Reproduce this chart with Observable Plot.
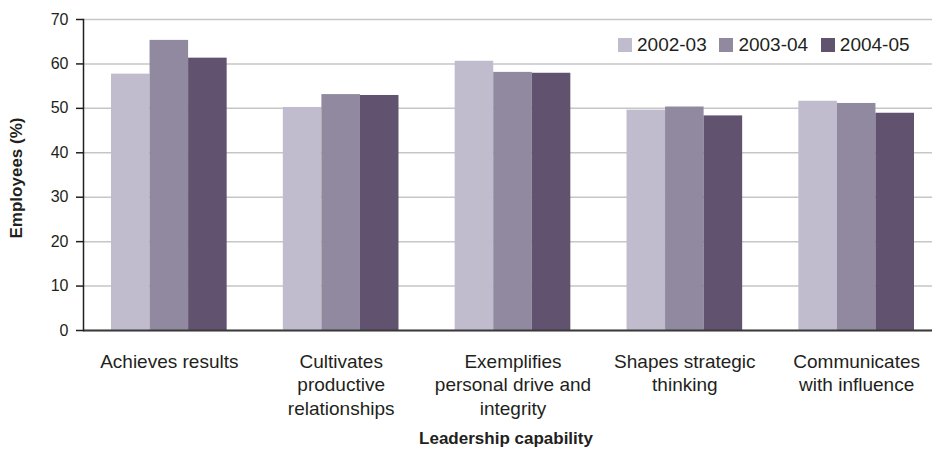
<!DOCTYPE html>
<html><head><meta charset="utf-8">
<script src="https://cdn.jsdelivr.net/npm/d3@7"></script>
<script src="https://cdn.jsdelivr.net/npm/@observablehq/plot@0.6"></script>
<style>
  body { margin: 0; background: #fff; overflow: hidden; }
  #wrap { position: relative; width: 932px; height: 452px; font-family: "Liberation Sans", Arial, sans-serif; color: #231f20; }
  #wrap svg { position: absolute; left: 0; top: 0; }
  #legend { position: absolute; top: 34px; left: 618px; display: flex; font-size: 19px; line-height: 22px; }
  #legend .item { display: flex; align-items: center; margin-right: 12.7px; }
  #legend .sw { width: 14px; height: 14px; margin-right: 5px; }
  #ytitle { position: absolute; left: 17px; top: 178px; transform: translate(-50%, -50%) rotate(-90deg); font-weight: bold; font-size: 17px; white-space: nowrap; }
  #xtitle { position: absolute; left: 506px; top: 439px; transform: translate(-50%, -50%); font-weight: bold; font-size: 17px; white-space: nowrap; }
</style>
</head><body>
<div id="wrap"></div>
<script>
const categories = ["Achieves results", "Cultivates productive relationships", "Exemplifies personal drive and integrity", "Shapes strategic thinking", "Communicates with influence"];
const tickLabels = ["Achieves results", "Cultivates\nproductive\nrelationships", "Exemplifies\npersonal drive and\nintegrity", "Shapes strategic\nthinking", "Communicates\nwith influence"];
const years = ["2002-03", "2003-04", "2004-05"];
const values2002 = [57.7, 50.2, 60.6, 49.6, 51.6];
const values2003 = [65.3, 53.1, 58.1, 50.3, 51.1];
const values2004 = [61.3, 52.9, 57.9, 48.3, 48.9];
const yTicks = [0, 10, 20, 30, 40, 50, 60, 70];
const colors = ["#c0bccd", "#9189a0", "#615270"];
const yTitle = "Employees (%)";
const xTitle = "Leadership capability";

const series = [values2002, values2003, values2004];
const data = [];
categories.forEach((c, i) => years.forEach((y, j) => data.push({category: c, year: y, value: series[j][i]})));

const common = {
  width: 932, height: 452,
  marginLeft: 83, marginTop: 19, marginBottom: 122,
  y: {domain: [0, 70], label: null}
};

// Base layer: gridlines and y axis
const base = Plot.plot({
  ...common,
  marginRight: 0,
  style: {fontFamily: "'Liberation Sans', Arial, sans-serif", fontSize: "16px", color: "#231f20", background: "transparent"},
  marks: [
    Plot.ruleY(yTicks, {stroke: "#c6c6c6", strokeWidth: 1.5}),
    Plot.axisY({ticks: yTicks, tickSize: 7, tickPadding: 8, stroke: "#231f20", strokeWidth: 1.5, fill: "#231f20", fontSize: 16, label: null})
  ]
});

// Bars layer, grouped with fx facets
const bars = Plot.plot({
  ...common,
  marginRight: -10,
  style: {fontFamily: "'Liberation Sans', Arial, sans-serif", fontSize: "19px", color: "#231f20", background: "transparent", overflow: "hidden"},
  fx: {domain: categories, paddingInner: 0.327, paddingOuter: 0.163, round: false, label: null},
  x: {domain: years, padding: 0, round: false, axis: null},
  color: {domain: years, range: colors},
  marks: [
    Plot.barY(data, {fx: "category", x: "year", y: "value", fill: "year"}),
    Plot.axisY({ticks: [], label: null}),
    Plot.axisFx({anchor: "bottom", tickFormat: (d) => tickLabels[categories.indexOf(d)], tickSize: 0, tickPadding: 21, lineHeight: 1.23, fontSize: 19, fill: "#231f20", label: null})
  ]
});

// Top layer: axis lines over bars
const lines = Plot.plot({
  ...common,
  marginRight: 0,
  style: {background: "transparent"},
  marks: [
    Plot.ruleY([0], {stroke: "#3a3a3a", strokeWidth: 2}),
    Plot.frame({anchor: "left", stroke: "#231f20", strokeWidth: 1.5}),
    Plot.axisY({ticks: [], label: null})
  ]
});

const wrap = document.getElementById("wrap");
wrap.appendChild(base);
wrap.appendChild(bars);
wrap.appendChild(lines);

const legend = document.createElement("div");
legend.id = "legend";
years.forEach((y, j) => {
  const it = document.createElement("div");
  it.className = "item";
  const sw = document.createElement("span");
  sw.className = "sw";
  sw.style.background = colors[j];
  const t = document.createElement("span");
  t.textContent = y;
  it.appendChild(sw); it.appendChild(t);
  legend.appendChild(it);
});
wrap.appendChild(legend);

const yt = document.createElement("div"); yt.id = "ytitle"; yt.textContent = yTitle; wrap.appendChild(yt);
const xt = document.createElement("div"); xt.id = "xtitle"; xt.textContent = xTitle; wrap.appendChild(xt);
</script>
</body></html>
